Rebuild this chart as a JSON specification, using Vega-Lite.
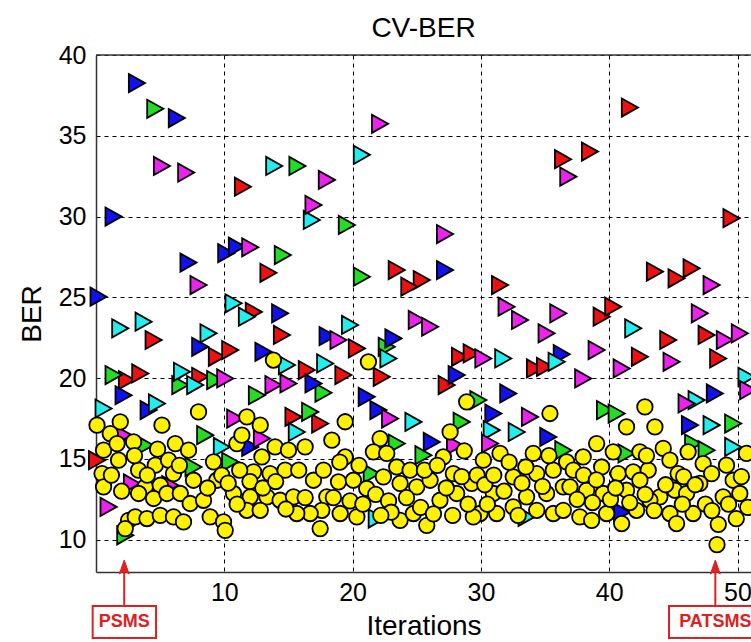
{
  "$schema": "https://vega.github.io/schema/vega-lite/v6.json",
  "autosize": {"type": "none"},
  "padding": {"left": 96, "top": 55, "right": 0, "bottom": 70},
  "width": 655,
  "height": 517,
  "background": "white",
  "title": {"text": "CV-BER", "fontSize": 28, "fontWeight": "normal", "color": "#000", "offset": 0, "font": "Liberation Sans"},
  "config": {
    "view": {"stroke": null},
    "font": "Liberation Sans",
    "axis": {
      "grid": true, "gridColor": "#000", "gridDash": [4, 4], "gridWidth": 1, "gridOpacity": 1,
      "ticks": false, "domainColor": "#333", "domainWidth": 1.5,
      "labelFontSize": 25, "labelColor": "#000", "labelFlush": false, "labelOverlap": false, "labelBound": false,
      "titleFontSize": 28, "titleFontWeight": "normal", "titleColor": "#000", "labelFont": "Liberation Sans", "titleFont": "Liberation Sans"
    }
  },
  "datasets": {
    "tri": [
      {"x":11.45,"y":31.85,"c":"red"},{"x":13.44,"y":26.52,"c":"red"},{"x":23.44,"y":26.69,"c":"red"},{"x":25.39,"y":26.07,"c":"red"},{"x":24.42,"y":25.66,"c":"red"},{"x":36.4,"y":33.55,"c":"red"},{"x":31.49,"y":25.76,"c":"red"},{"x":41.61,"y":36.75,"c":"red"},{"x":38.5,"y":34.02,"c":"red"},{"x":49.53,"y":29.9,"c":"red"},{"x":43.56,"y":26.59,"c":"red"},{"x":45.25,"y":26.18,"c":"red"},{"x":46.42,"y":26.8,"c":"red"},{"x":4.49,"y":22.36,"c":"red"},{"x":9.42,"y":21.32,"c":"red"},{"x":10.46,"y":21.74,"c":"red"},{"x":12.3,"y":24.1,"c":"red"},{"x":14.49,"y":22.67,"c":"red"},{"x":16.43,"y":20.5,"c":"red"},{"x":2.41,"y":19.88,"c":"red"},{"x":3.45,"y":20.29,"c":"red"},{"x":8.12,"y":20.08,"c":"red"},{"x":15.39,"y":17.6,"c":"red"},{"x":17.47,"y":17.19,"c":"red"},{"x":0.08,"y":14.92,"c":"red"},{"x":20.33,"y":21.84,"c":"red"},{"x":22.27,"y":20.08,"c":"red"},{"x":19.28,"y":20.19,"c":"red"},{"x":28.37,"y":21.32,"c":"red"},{"x":29.28,"y":21.53,"c":"red"},{"x":34.21,"y":20.6,"c":"red"},{"x":34.99,"y":20.7,"c":"red"},{"x":27.33,"y":19.57,"c":"red"},{"x":39.41,"y":23.8,"c":"red"},{"x":40.31,"y":24.42,"c":"red"},{"x":42.39,"y":21.32,"c":"red"},{"x":44.6,"y":22.36,"c":"red"},{"x":47.59,"y":22.67,"c":"red"},{"x":48.49,"y":21.22,"c":"red"},
      {"x":4.62,"y":36.67,"c":"green"},{"x":15.7,"y":33.13,"c":"green"},{"x":14.56,"y":27.62,"c":"green"},{"x":19.55,"y":29.48,"c":"green"},{"x":20.72,"y":26.28,"c":"green"},{"x":1.37,"y":20.19,"c":"green"},{"x":6.57,"y":19.57,"c":"green"},{"x":9.29,"y":19.88,"c":"green"},{"x":12.54,"y":18.94,"c":"green"},{"x":17.73,"y":19.1,"c":"green"},{"x":16.69,"y":17.91,"c":"green"},{"x":8.51,"y":16.47,"c":"green"},{"x":10.46,"y":14.82,"c":"green"},{"x":7.6,"y":14.5,"c":"green"},{"x":3.84,"y":15.85,"c":"green"},{"x":2.28,"y":10.27,"c":"green"},{"x":22.66,"y":21.94,"c":"green"},{"x":29.8,"y":18.64,"c":"green"},{"x":28.5,"y":17.29,"c":"green"},{"x":23.44,"y":15.95,"c":"green"},{"x":25.52,"y":15.23,"c":"green"},{"x":21.49,"y":14.09,"c":"green"},{"x":39.67,"y":18.02,"c":"green"},{"x":40.58,"y":17.81,"c":"green"},{"x":49.66,"y":17.19,"c":"green"},{"x":46.54,"y":15.95,"c":"green"},{"x":47.59,"y":15.54,"c":"green"},{"x":41.35,"y":15.34,"c":"green"},{"x":36.42,"y":15.54,"c":"green"},
      {"x":3.19,"y":38.26,"c":"blue"},{"x":6.3,"y":36.1,"c":"blue"},{"x":1.37,"y":30.0,"c":"blue"},{"x":7.21,"y":27.15,"c":"blue"},{"x":10.15,"y":27.73,"c":"blue"},{"x":10.98,"y":28.14,"c":"blue"},{"x":27.2,"y":26.69,"c":"blue"},{"x":0.2,"y":25.04,"c":"blue"},{"x":8.12,"y":21.94,"c":"blue"},{"x":14.35,"y":24.01,"c":"blue"},{"x":18.05,"y":22.6,"c":"blue"},{"x":13.05,"y":21.63,"c":"blue"},{"x":2.15,"y":18.94,"c":"blue"},{"x":4.1,"y":18.02,"c":"blue"},{"x":16.95,"y":19.67,"c":"blue"},{"x":12.02,"y":15.74,"c":"blue"},{"x":23.18,"y":22.46,"c":"blue"},{"x":36.3,"y":21.48,"c":"blue"},{"x":28.11,"y":20.19,"c":"blue"},{"x":32.13,"y":19.05,"c":"blue"},{"x":21.1,"y":18.84,"c":"blue"},{"x":22.01,"y":18.02,"c":"blue"},{"x":26.17,"y":16.05,"c":"blue"},{"x":30.97,"y":17.81,"c":"blue"},{"x":35.25,"y":16.36,"c":"blue"},{"x":48.23,"y":19.05,"c":"blue"},{"x":46.29,"y":17.09,"c":"blue"},{"x":41.0,"y":11.7,"c":"blue"},
      {"x":13.89,"y":33.13,"c":"cyan"},{"x":16.82,"y":29.79,"c":"cyan"},{"x":20.72,"y":33.82,"c":"cyan"},{"x":1.89,"y":23.08,"c":"cyan"},{"x":3.71,"y":23.49,"c":"cyan"},{"x":8.77,"y":22.77,"c":"cyan"},{"x":10.72,"y":24.63,"c":"cyan"},{"x":11.76,"y":23.8,"c":"cyan"},{"x":14.88,"y":20.81,"c":"cyan"},{"x":17.86,"y":20.91,"c":"cyan"},{"x":6.7,"y":20.39,"c":"cyan"},{"x":7.73,"y":19.57,"c":"cyan"},{"x":4.75,"y":18.43,"c":"cyan"},{"x":0.59,"y":18.12,"c":"cyan"},{"x":15.65,"y":16.67,"c":"cyan"},{"x":9.81,"y":15.74,"c":"cyan"},{"x":19.8,"y":23.29,"c":"cyan"},{"x":22.79,"y":21.22,"c":"cyan"},{"x":31.74,"y":21.22,"c":"cyan"},{"x":35.9,"y":21.01,"c":"cyan"},{"x":24.74,"y":17.29,"c":"cyan"},{"x":30.84,"y":16.78,"c":"cyan"},{"x":32.79,"y":16.67,"c":"cyan"},{"x":21.88,"y":11.31,"c":"cyan"},{"x":33.56,"y":11.41,"c":"cyan"},{"x":41.87,"y":23.08,"c":"cyan"},{"x":50.7,"y":20.08,"c":"cyan"},{"x":46.81,"y":18.64,"c":"cyan"},{"x":47.98,"y":17.09,"c":"cyan"},{"x":49.66,"y":15.74,"c":"cyan"},
      {"x":5.14,"y":33.13,"c":"magenta"},{"x":7.03,"y":32.72,"c":"magenta"},{"x":17.99,"y":32.27,"c":"magenta"},{"x":16.95,"y":30.72,"c":"magenta"},{"x":12.02,"y":28.1,"c":"magenta"},{"x":7.99,"y":25.76,"c":"magenta"},{"x":22.14,"y":35.74,"c":"magenta"},{"x":27.2,"y":28.92,"c":"magenta"},{"x":36.81,"y":32.47,"c":"magenta"},{"x":47.98,"y":25.76,"c":"magenta"},{"x":10.07,"y":19.98,"c":"magenta"},{"x":13.83,"y":19.57,"c":"magenta"},{"x":15.0,"y":19.67,"c":"magenta"},{"x":10.85,"y":17.5,"c":"magenta"},{"x":12.93,"y":16.26,"c":"magenta"},{"x":2.15,"y":16.47,"c":"magenta"},{"x":2.8,"y":13.48,"c":"magenta"},{"x":5.79,"y":13.37,"c":"magenta"},{"x":0.98,"y":12.03,"c":"magenta"},{"x":25.0,"y":23.6,"c":"magenta"},{"x":26.04,"y":23.18,"c":"magenta"},{"x":32.0,"y":24.42,"c":"magenta"},{"x":33.05,"y":23.6,"c":"magenta"},{"x":36.03,"y":24.01,"c":"magenta"},{"x":35.12,"y":22.77,"c":"magenta"},{"x":18.9,"y":22.36,"c":"magenta"},{"x":30.19,"y":21.22,"c":"magenta"},{"x":22.92,"y":17.5,"c":"magenta"},{"x":27.98,"y":15.85,"c":"magenta"},{"x":33.82,"y":17.6,"c":"magenta"},{"x":30.71,"y":15.95,"c":"magenta"},{"x":39.02,"y":21.74,"c":"magenta"},{"x":40.97,"y":20.6,"c":"magenta"},{"x":44.86,"y":21.01,"c":"magenta"},{"x":47.06,"y":24.01,"c":"magenta"},{"x":49.01,"y":22.36,"c":"magenta"},{"x":50.18,"y":22.77,"c":"magenta"},{"x":37.97,"y":19.98,"c":"magenta"},{"x":50.83,"y":19.26,"c":"magenta"},{"x":46.03,"y":18.43,"c":"magenta"}
    ],
    "circ": [
      {"x":0.08,"y":17.09},{"x":1.89,"y":17.29},{"x":1.11,"y":16.57},{"x":0.59,"y":15.54},{"x":1.64,"y":15.95},{"x":1.76,"y":14.92},{"x":0.47,"y":14.09},{"x":0.59,"y":13.27},{"x":2.93,"y":16.05},{"x":5.14,"y":17.09},{"x":6.18,"y":15.95},{"x":7.21,"y":15.54},{"x":3.32,"y":14.3},{"x":4.62,"y":14.61},{"x":5.65,"y":14.92},{"x":6.04,"y":14.09},{"x":3.84,"y":13.27},{"x":5.01,"y":13.37},{"x":3.32,"y":12.86},{"x":4.49,"y":12.55},{"x":5.53,"y":12.86},{"x":6.57,"y":12.86},{"x":7.6,"y":13.68},{"x":7.34,"y":12.24},{"x":9.16,"y":14.82},{"x":9.42,"y":13.68},{"x":8.38,"y":12.44},{"x":2.54,"y":11.2},{"x":2.28,"y":10.69},{"x":3.06,"y":11.41},{"x":3.97,"y":11.31},{"x":5.01,"y":11.51},{"x":6.04,"y":11.41},{"x":6.82,"y":11.1},{"x":8.9,"y":11.41},{"x":9.94,"y":11.1},{"x":10.07,"y":10.58},{"x":10.98,"y":15.95},{"x":11.76,"y":17.6},{"x":12.8,"y":17.09},{"x":11.37,"y":16.47},{"x":12.93,"y":15.12},{"x":13.96,"y":15.74},{"x":15.0,"y":15.54},{"x":16.3,"y":15.74},{"x":12.28,"y":14.2},{"x":13.57,"y":14.09},{"x":14.74,"y":14.3},{"x":10.72,"y":12.86},{"x":12.02,"y":12.65},{"x":13.32,"y":12.65},{"x":14.35,"y":12.44},{"x":15.39,"y":12.65},{"x":16.95,"y":13.68},{"x":17.73,"y":14.3},{"x":17.99,"y":12.65},{"x":17.6,"y":11.82},{"x":17.47,"y":10.69},{"x":16.69,"y":11.62},{"x":15.65,"y":11.62},{"x":11.76,"y":11.82},{"x":12.8,"y":11.82},{"x":13.83,"y":21.12},{"x":7.99,"y":17.91},
      {"x":19.42,"y":17.3},{"x":18.38,"y":16.16},{"x":19.42,"y":15.12},{"x":18.9,"y":13.58},{"x":20.06,"y":13.68},{"x":21.1,"y":13.17},{"x":19.03,"y":11.62},{"x":20.33,"y":11.41},{"x":22.14,"y":16.26},{"x":21.62,"y":15.44},{"x":22.66,"y":15.34},{"x":23.44,"y":14.5},{"x":24.48,"y":14.3},{"x":22.4,"y":13.89},{"x":23.7,"y":13.48},{"x":25.0,"y":13.27},{"x":26.04,"y":13.68},{"x":23.7,"y":11.2},{"x":24.74,"y":11.62},{"x":25.78,"y":10.89},{"x":26.81,"y":12.44},{"x":27.07,"y":15.12},{"x":27.85,"y":14.09},{"x":28.11,"y":12.86},{"x":29.28,"y":13.48},{"x":30.19,"y":14.92},{"x":31.49,"y":15.34},{"x":32.52,"y":13.89},{"x":30.97,"y":12.86},{"x":29.93,"y":11.62},{"x":31.23,"y":11.62},{"x":32.52,"y":12.03},{"x":34.08,"y":15.34},{"x":34.35,"y":14.09},{"x":35.64,"y":14.3},{"x":35.12,"y":12.86},{"x":36.42,"y":13.27},{"x":33.56,"y":12.65},{"x":34.35,"y":11.82},{"x":35.64,"y":11.62},{"x":29.41,"y":11.41},{"x":21.23,"y":21.01},{"x":28.89,"y":18.53},{"x":27.6,"y":16.67},{"x":35.38,"y":17.81},
      {"x":39.02,"y":15.95},{"x":40.31,"y":15.44},{"x":42.39,"y":15.44},{"x":44.21,"y":15.65},{"x":46.15,"y":15.44},{"x":49.14,"y":14.61},{"x":50.7,"y":15.34},{"x":36.68,"y":14.82},{"x":37.97,"y":15.12},{"x":39.41,"y":14.5},{"x":40.7,"y":14.09},{"x":41.87,"y":14.2},{"x":43.04,"y":14.3},{"x":44.73,"y":14.92},{"x":45.37,"y":14.09},{"x":47.32,"y":14.71},{"x":47.98,"y":14.09},{"x":49.66,"y":13.68},{"x":36.94,"y":13.27},{"x":38.24,"y":13.06},{"x":39.53,"y":12.86},{"x":41.35,"y":13.06},{"x":42.39,"y":13.68},{"x":43.95,"y":12.65},{"x":45.11,"y":13.06},{"x":46.03,"y":12.86},{"x":47.06,"y":13.48},{"x":48.88,"y":12.65},{"x":50.18,"y":12.86},{"x":36.42,"y":11.82},{"x":37.71,"y":11.41},{"x":38.63,"y":11.2},{"x":39.8,"y":11.62},{"x":40.97,"y":11.0},{"x":42.13,"y":11.82},{"x":44.73,"y":11.62},{"x":45.25,"y":11.0},{"x":46.54,"y":11.62},{"x":48.5,"y":10.95},{"x":48.4,"y":9.7},{"x":43.17,"y":12.44},{"x":42.78,"y":18.22},{"x":41.35,"y":16.98},{"x":43.56,"y":16.98},
      {"x":1.2,"y":14.0},{"x":2.0,"y":13.0},{"x":3.0,"y":15.2},{"x":4.0,"y":14.0},{"x":4.8,"y":15.6},{"x":6.5,"y":14.6},{"x":8.7,"y":13.2},{"x":9.8,"y":14.0},{"x":10.3,"y":13.5},{"x":11.2,"y":14.3},{"x":12.0,"y":13.6},{"x":13.0,"y":13.2},{"x":14.0,"y":13.6},{"x":15.8,"y":14.3},{"x":16.3,"y":12.6},{"x":11.0,"y":12.2},{"x":14.8,"y":11.9},{"x":18.5,"y":12.6},{"x":19.8,"y":12.4},{"x":20.8,"y":12.2},{"x":21.8,"y":12.8},{"x":22.8,"y":12.4},{"x":23.0,"y":11.7},{"x":20.5,"y":14.6},{"x":19.0,"y":14.8},{"x":22.2,"y":11.5},{"x":24.2,"y":12.6},{"x":25.3,"y":12.0},{"x":26.3,"y":11.6},{"x":27.3,"y":13.2},{"x":28.5,"y":13.9},{"x":29.0,"y":12.2},{"x":27.8,"y":11.5},{"x":25.6,"y":14.3},{"x":26.6,"y":14.6},{"x":28.7,"y":15.5},{"x":29.7,"y":14.0},{"x":30.3,"y":13.4},{"x":31.0,"y":14.0},{"x":31.8,"y":13.0},{"x":32.2,"y":14.8},{"x":33.2,"y":13.5},{"x":33.5,"y":14.5},{"x":34.8,"y":13.3},{"x":35.3,"y":15.2},{"x":32.9,"y":11.5},{"x":30.5,"y":12.2},{"x":37.2,"y":14.3},{"x":38.0,"y":14.0},{"x":38.7,"y":12.3},{"x":39.0,"y":13.7},{"x":40.1,"y":12.5},{"x":40.5,"y":13.2},{"x":41.6,"y":12.3},{"x":42.8,"y":12.8},{"x":43.5,"y":11.8},{"x":42.9,"y":15.2},{"x":37.5,"y":12.5},{"x":44.4,"y":13.4},{"x":45.8,"y":13.9},{"x":46.7,"y":13.4},{"x":47.5,"y":12.2},{"x":48.0,"y":11.8},{"x":49.3,"y":12.2},{"x":50.3,"y":13.9},{"x":49.9,"y":11.3},{"x":45.7,"y":12.2},{"x":50.8,"y":12.0}
    ],
    "ann": [
      {"label": "PSMS", "x": 2.2, "bx": -0.26, "bx2": 4.68, "by": 3.92, "by2": 5.9, "ty": 4.9, "ay": 5.9, "ay2": 8.4, "hy": 8.31},
      {"label": "PATSMS", "x": 48.27, "bx": 44.66, "bx2": 51.9, "by": 3.92, "by2": 5.9, "ty": 4.9, "ay": 5.9, "ay2": 8.4, "hy": 8.31}
    ]
  },
  "layer": [
    {
      "data": {"name": "tri"},
      "mark": {"type": "point", "shape": "M0.89,0L-0.89,-1L-0.89,1Z", "filled": true, "size": 330, "stroke": "#000", "strokeWidth": 1.8, "opacity": 1},
      "encoding": {
        "x": {"field": "x", "type": "quantitative", "title": "Iterations", "scale": {"domain": [0, 51.05], "nice": false, "zero": false},
              "axis": {"values": [10, 20, 30, 40, 50], "title": "Iterations", "labelPadding": 8, "titlePadding": 7}},
        "y": {"field": "y", "type": "quantitative", "title": "BER", "scale": {"domain": [8, 40], "nice": false, "zero": false},
              "axis": {"values": [10, 15, 20, 25, 30, 35, 40], "title": "BER", "labelPadding": 10, "titlePadding": 12}},
        "fill": {"field": "c", "type": "nominal", "legend": null,
                 "scale": {"domain": ["red", "green", "blue", "cyan", "magenta"], "range": ["#EE1111", "#22DD22", "#1111EE", "#22EEEE", "#EE22EE"]}}
      }
    },
    {
      "data": {"name": "circ"},
      "mark": {"type": "point", "shape": "circle", "filled": true, "size": 240, "fill": "#FFF200", "stroke": "#000", "strokeWidth": 1.8, "opacity": 1},
      "encoding": {
        "x": {"field": "x", "type": "quantitative", "title": "Iterations", "scale": {"domain": [0, 51.05], "nice": false, "zero": false}},
        "y": {"field": "y", "type": "quantitative", "title": "BER", "scale": {"domain": [8, 40], "nice": false, "zero": false}}
      }
    },
    {
      "data": {"values": [{}]},
      "mark": {"type": "rule", "color": "#333", "strokeWidth": 1.5},
      "encoding": {"y": {"datum": 40, "type": "quantitative", "title": "BER", "scale": {"domain": [8, 40], "nice": false, "zero": false}}}
    },
    {
      "data": {"name": "ann"},
      "mark": {"type": "rect", "fill": "white", "stroke": "#E02020", "strokeWidth": 2},
      "encoding": {
        "x": {"field": "bx", "type": "quantitative", "title": "Iterations", "scale": {"domain": [0, 51.05], "nice": false, "zero": false}},
        "x2": {"field": "bx2"},
        "y": {"field": "by", "type": "quantitative", "title": "BER", "scale": {"domain": [8, 40], "nice": false, "zero": false}},
        "y2": {"field": "by2"}
      }
    },
    {
      "data": {"name": "ann"},
      "mark": {"type": "rule", "color": "#E02020", "strokeWidth": 2},
      "encoding": {
        "x": {"field": "x", "type": "quantitative", "title": "Iterations", "scale": {"domain": [0, 51.05], "nice": false, "zero": false}},
        "y": {"field": "ay", "type": "quantitative", "title": "BER", "scale": {"domain": [8, 40], "nice": false, "zero": false}},
        "y2": {"field": "ay2"}
      }
    },
    {
      "data": {"name": "ann"},
      "mark": {"type": "point", "shape": "M0,-1L0.7,1L0,0.5L-0.7,1Z", "filled": true, "size": 196, "fill": "#E02020", "stroke": "#E02020", "strokeWidth": 1, "opacity": 1},
      "encoding": {
        "x": {"field": "x", "type": "quantitative", "title": "Iterations", "scale": {"domain": [0, 51.05], "nice": false, "zero": false}},
        "y": {"field": "hy", "type": "quantitative", "title": "BER", "scale": {"domain": [8, 40], "nice": false, "zero": false}}
      }
    },
    {
      "data": {"name": "ann"},
      "mark": {"type": "text", "font": "Liberation Sans", "fontWeight": "bold", "fontSize": 18, "color": "#E02020", "align": "center", "baseline": "middle"},
      "encoding": {
        "x": {"field": "x", "type": "quantitative", "title": "Iterations", "scale": {"domain": [0, 51.05], "nice": false, "zero": false}},
        "y": {"field": "ty", "type": "quantitative", "title": "BER", "scale": {"domain": [8, 40], "nice": false, "zero": false}},
        "text": {"field": "label"}
      }
    }
  ]
}
